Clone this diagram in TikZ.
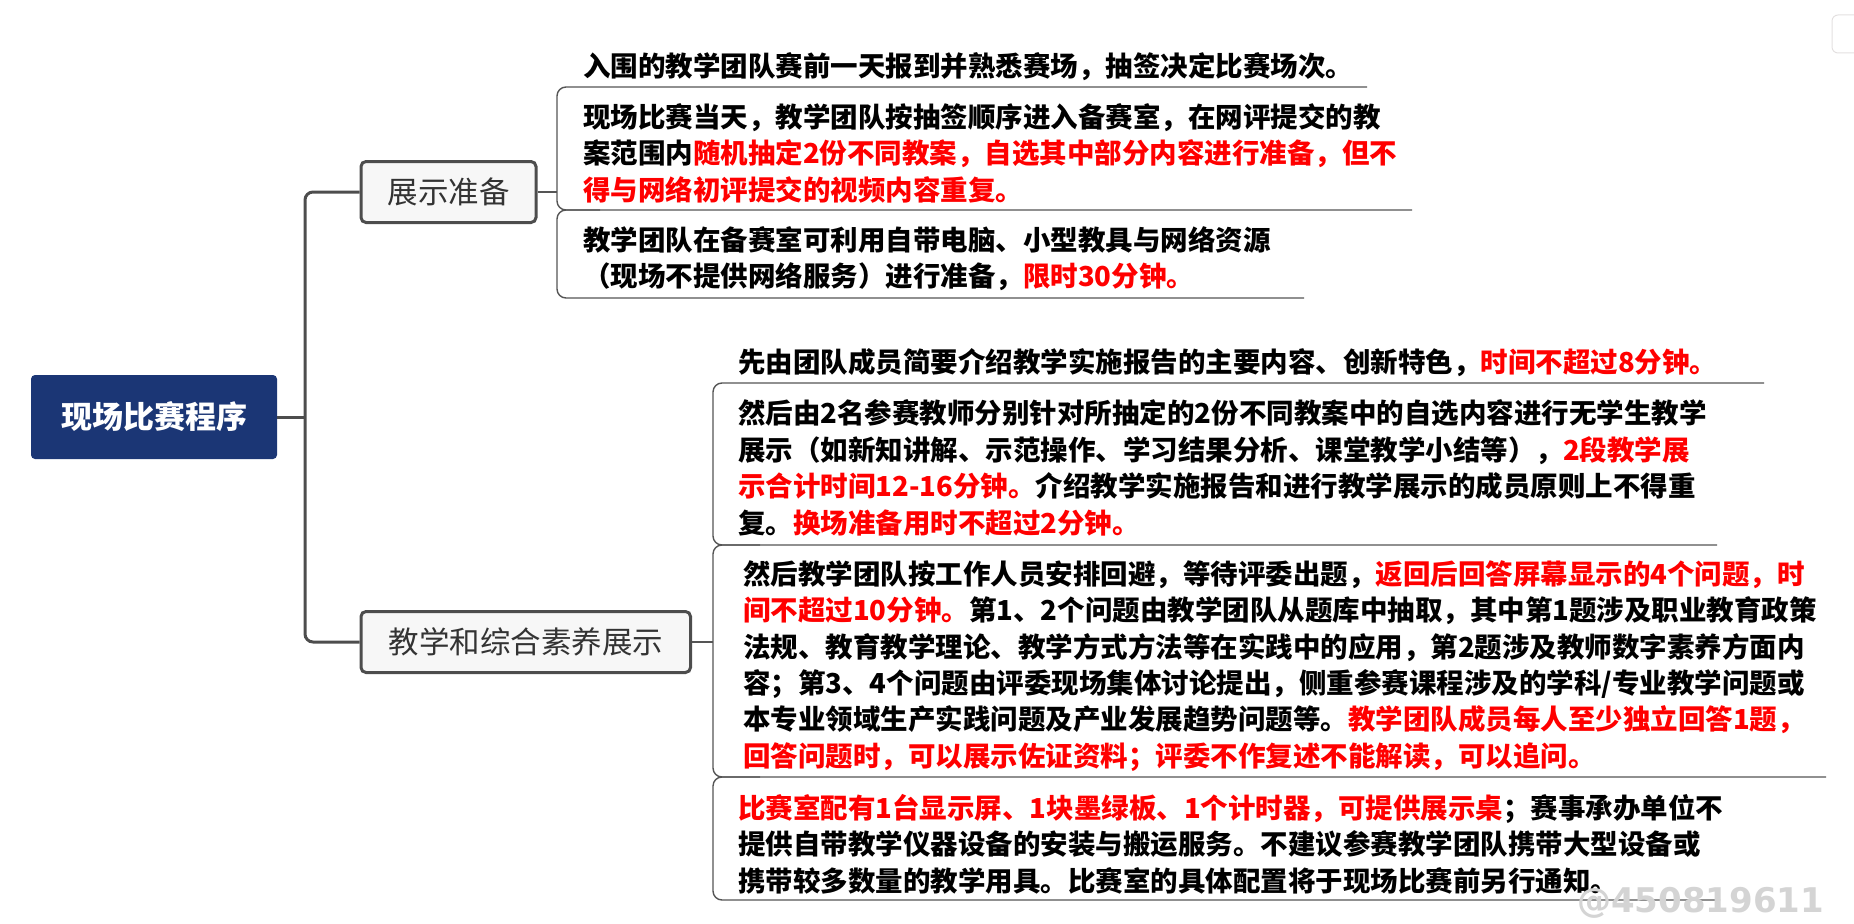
\documentclass[tikz,border=0pt]{standalone}
\usepackage{fontspec}
\setmainfont{Noto Sans CJK SC}
\newfontfamily\markfont{DejaVu Sans}
\usepackage{xcolor}
\usepackage{tikz}
\usetikzlibrary{positioning}
\usetikzlibrary{calc}

\definecolor{rootblue}{RGB}{27,54,117}
\definecolor{hilite}{RGB}{255,0,0}
\definecolor{stemgray}{RGB}{77,77,77}
\definecolor{twiggray}{RGB}{85,85,85}
\definecolor{boxfill}{RGB}{247,247,247}

\newcommand{\hl}[1]{\textcolor{hilite}{#1}}
\newcommand{\ls}{\rule[-5.1pt]{0pt}{31.1pt}}

\begin{document}
\begin{tikzpicture}[x=1pt, y=-1pt, root/.style={fill=rootblue, rounded corners=4pt, text=white, font=\fontsize{31}{36}\selectfont\bfseries, minimum width=246pt, minimum height=84pt, inner sep=0pt}, topic/.style={draw=stemgray, line width=3pt, fill=boxfill, rounded corners=5pt, text=black!80, font=\fontsize{30.5}{36}\selectfont, minimum height=61pt, inner xsep=26.5pt, anchor=west}, leaf/.style={anchor=west, align=left, inner sep=0pt, font=\fontsize{27.5}{36.4}\selectfont\bfseries}, stem/.style={draw=stemgray, line width=3pt, rounded corners=8pt}, twig/.style={draw=twiggray, line width=1.4pt, rounded corners=9pt}]
	\useasboundingbox (0,0) rectangle (1854,923);
	% root and main topics
	\node[root] (prog) at (154,417) {现场比赛程序};
	\node[topic] (prep) at (359.5,192) {展示准备};
	\node[topic, inner xsep=27.5pt] (show) at (359.5,642) {教学和综合素养展示};
	\coordinate (fork) at (305,417);
	\draw[stem] (prog.east) -- (fork);
	\draw[stem] (prep.west) -| (fork) |- (show.west);
	% first group
	\coordinate (j1) at (557,192);
	\draw[twig] (prep.east) -- (j1);
	\draw[twig] (1367,87) -- (557,87) -- (557,210) -- (1412,210);
	\draw[twig] (600,210) -- (557,210) -- (557,298) -- (1304,298);
	\node[leaf] (p1) at (583,66.5) {\ls 入围的教学团队赛前一天报到并熟悉赛场，抽签决定比赛场次。};
	\node[leaf] (p2) at (583,153.3) {\ls 现场比赛当天，教学团队按抽签顺序进入备赛室，在网评提交的教\\ \ls 案范围内\hl{随机抽定2份不同教案，自选其中部分内容进行准备，但不}\\ \ls\hl{得与网络初评提交的视频内容重复。}};
	\node[leaf] (p3) at (583,258.3) {\ls 教学团队在备赛室可利用自带电脑、小型教具与网络资源\\ \ls （现场不提供网络服务）进行准备，\hl{限时30分钟。}};
	% second group
	\coordinate (j2) at (713,642);
	\draw[twig] (show.east) -- (j2);
	\draw[twig] (1764,383) -- (713,383) -- (713,545) -- (1717,545);
	\draw[twig] (760,545) -- (713,545) -- (713,777) -- (1826,777);
	\draw[twig] (760,777) -- (713,777) -- (713,900) -- (1720,900);
	\node[leaf] (s1) at (738,362.5) {\ls 先由团队成员简要介绍教学实施报告的主要内容、创新特色，\hl{时间不超过8分钟。}};
	\node[leaf] (s2) at (738,468) {\ls 然后由2名参赛教师分别针对所抽定的2份不同教案中的自选内容进行无学生教学\\ \ls 展示（如新知讲解、示范操作、学习结果分析、课堂教学小结等），\hl{2段教学展}\\ \ls\hl{示合计时间12-16分钟。}介绍教学实施报告和进行教学展示的成员原则上不得重\\ \ls 复。\hl{换场准备用时不超过2分钟。}};
	\node[leaf] (s3) at (743,664.8) {\ls 然后教学团队按工作人员安排回避，等待评委出题，\hl{返回后回答屏幕显示的4个问题，时}\\ \ls\hl{间不超过10分钟。}第1、2个问题由教学团队从题库中抽取，其中第1题涉及职业教育政策\\ \ls 法规、教育教学理论、教学方式方法等在实践中的应用，第2题涉及教师数字素养方面内\\ \ls 容；第3、4个问题由评委现场集体讨论提出，侧重参赛课程涉及的学科/专业教学问题或\\ \ls 本专业领域生产实践问题及产业发展趋势问题等。\hl{教学团队成员每人至少独立回答1题，}\\ \ls\hl{回答问题时，可以展示佐证资料；评委不作复述不能解读，可以追问。}};
	\node[leaf] (s4) at (738,844.2) {\ls\hl{比赛室配有1台显示屏、1块墨绿板、1个计时器，可提供展示桌}；赛事承办单位不\\ \ls 提供自带教学仪器设备的安装与搬运服务。不建议参赛教学团队携带大型设备或\\ \ls 携带较多数量的教学用具。比赛室的具体配置将于现场比赛前另行通知。};
	% page marks
	\draw[draw=red!10!black!12, line width=1pt, rounded corners=6pt] (1832,15) rectangle (1890,53);
	\node[anchor=west, inner sep=0pt, text=black!17, font=\markfont\bfseries\fontsize{34}{40}\selectfont] (mark) at (1577,903) {@450819611};
\end{tikzpicture}
\end{document}
